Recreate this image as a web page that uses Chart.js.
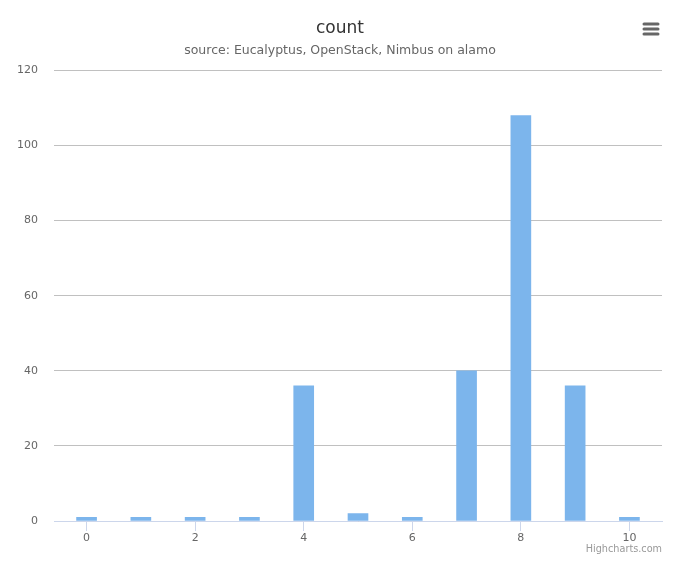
<!DOCTYPE html>
<html>
<head>
<meta charset="utf-8">
<script src="https://cdn.jsdelivr.net/npm/chart.js@4"></script>
<style>
  html, body { margin: 0; padding: 0; background: #fff; }
  #wrap { width: 680px; height: 566px; }
</style>
</head>
<body>
<div id="wrap"><canvas id="countChart" width="680" height="566"></canvas></div>
<script>
// valores
const categorias = [0, 1, 2, 3, 4, 5, 6, 7, 8, 9, 10];
const cuentas = [1, 1, 1, 1, 36, 2, 1, 40, 108, 36, 1];
const ticksX = [0, 2, 4, 6, 8, 10];
const ticksY = [0, 20, 40, 60, 80, 100, 120];

const fuente = "'DejaVu Sans', sans-serif";

// creditos y menu tipo Highcharts
const extras = {
    id: 'extras',
    afterDraw(chart) {
        const c = chart.ctx;
        c.save();
        c.font = "9.7px " + fuente;
        c.fillStyle = '#999999';
        c.textAlign = 'right';
        c.textBaseline = 'middle';
        c.fillText('Highcharts.com', 662, 549);

        c.strokeStyle = '#666666';
        c.lineWidth = 3;
        c.lineCap = 'round';
        [24, 29, 34].forEach(y => {
            c.beginPath();
            c.moveTo(644, y);
            c.lineTo(658, y);
            c.stroke();
        });
        c.restore();
    }
};

new Chart(document.getElementById('countChart'), {
    type: 'bar',
    data: {
        datasets: [{
            label: 'count',
            data: categorias.map((x, i) => ({ x: x, y: cuentas[i] })),
            backgroundColor: '#7cb5ec',
            borderWidth: 0,
            barThickness: 20
        }]
    },
    options: {
        responsive: false,
        animation: false,
        // padding simetrico para que el titulo quede centrado en 340
        layout: { padding: { left: 18, right: 18, top: 0, bottom: 0 } },
        plugins: {
            legend: { display: false },
            tooltip: { enabled: false },
            title: {
                display: true,
                text: 'count',
                color: '#333333',
                font: { family: fuente, size: 17, weight: 'normal' },
                padding: { top: 18, bottom: 1 }
            },
            subtitle: {
                display: true,
                text: 'source: Eucalyptus, OpenStack, Nimbus on alamo',
                color: '#666666',
                font: { family: fuente, size: 12.5 },
                padding: { top: 4, bottom: 12 }
            }
        },
        scales: {
            x: {
                type: 'linear',
                offset: false,
                min: -0.6,
                max: 10.6,
                afterBuildTicks(scale) {
                    scale.ticks = ticksX.map(v => ({ value: v }));
                },
                ticks: {
                    color: '#666666',
                    font: { family: fuente, size: 11 },
                    padding: 1,
                    maxRotation: 0,
                    autoSkip: false
                },
                grid: {
                    offset: false,
                    drawOnChartArea: false,
                    tickLength: 10,
                    color: '#ccd6eb'
                },
                border: { color: '#ccd6eb' },
                afterFit(scale) { scale.height = 45; }
            },
            y: {
                min: 0,
                max: 120,
                afterBuildTicks(scale) {
                    scale.ticks = ticksY.map(v => ({ value: v }));
                },
                ticks: {
                    color: '#666666',
                    font: { family: fuente, size: 11 },
                    padding: 16
                },
                grid: {
                    drawTicks: false,
                    color: '#c0c0c0'
                },
                border: { display: false },
                afterFit(scale) { scale.width = 36; }
            }
        }
    },
    plugins: [extras]
});
</script>
</body>
</html>
